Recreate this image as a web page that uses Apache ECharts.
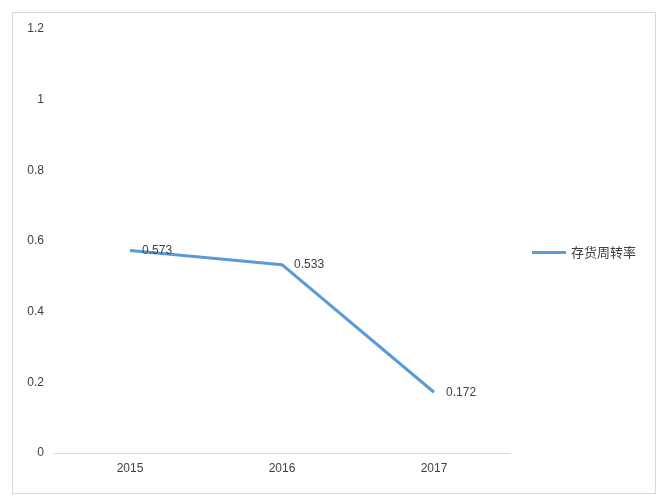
<!DOCTYPE html>
<html><head><meta charset="utf-8">
<script src="https://cdn.jsdelivr.net/npm/echarts@6/dist/echarts.min.js"></script>
<style>html,body{margin:0;padding:0;background:#fff}#c{width:663px;height:499px}
#b{position:absolute;left:12px;top:12px;width:642px;height:480px;border:1px solid #d9d9d9;pointer-events:none}</style>
</head><body><div id="c"></div><div id="b"></div>
<script>
const categories = ['2015','2016','2017'];
const values = [0.573, 0.533, 0.172];
const seriesName = '存货周转率';
const chart = echarts.init(document.getElementById('c'));
chart.setOption({
  animation:false,
  grid:{left:54,right:153,top:29,bottom:46},
  legend:{right:22,top:241,orient:'vertical',itemWidth:34,itemHeight:3,icon:'rect',
    textStyle:{fontSize:13,color:'#404040',fontFamily:'Noto Sans CJK SC'},data:[seriesName]},
  xAxis:{type:'category',data:categories,axisTick:{show:false},
    axisLine:{lineStyle:{color:'#d9d9d9'}},
    axisLabel:{color:'#404040',fontSize:12,margin:10}},
  yAxis:{type:'value',min:0,max:1.2,interval:0.2,splitLine:{show:false},
    axisLine:{show:false},axisTick:{show:false},
    axisLabel:{color:'#404040',fontSize:12,margin:10,formatter:v=>String(+v.toFixed(1))}},
  series:[{name:seriesName,type:'line',data:values,symbol:'circle',symbolSize:0.1,showSymbol:true,
    lineStyle:{color:'#5b9bd5',width:3},itemStyle:{color:'#5b9bd5'},
    label:{show:true,position:'right',distance:12,color:'#404040',fontSize:12}}]
});
</script></body></html>
